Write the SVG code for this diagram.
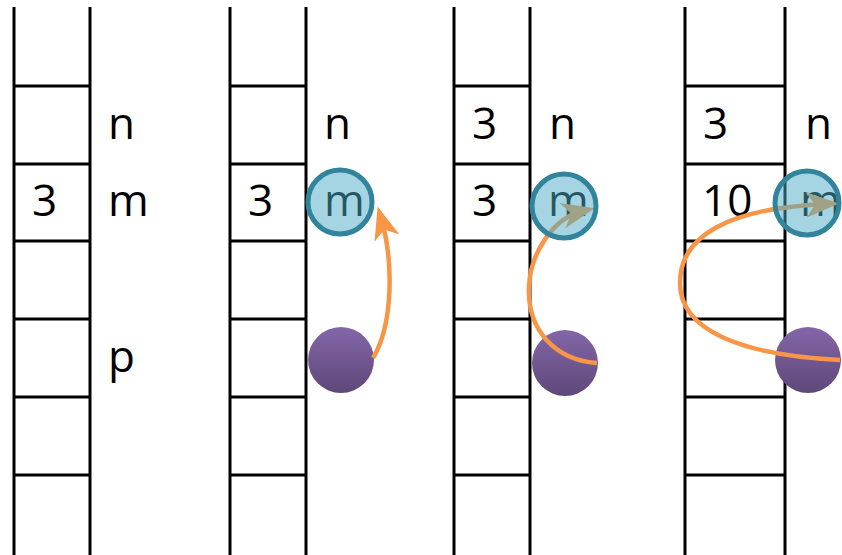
<svg xmlns="http://www.w3.org/2000/svg" width="842" height="555" viewBox="0 0 842 555">
<style>
.g line{stroke:#000;stroke-width:3}
.t{font-family:"Open Sans","Liberation Sans",sans-serif;font-size:44px;fill:#000}
.arr{fill:none;stroke:#f79646;stroke-width:4.5}
.bc{fill:rgba(75,172,198,0.5);stroke:#31849b;stroke-width:5}
.pc{fill:url(#pg)}
</style>
<defs>
<linearGradient id="pg" x1="0" y1="0" x2="0" y2="1">
<stop offset="0" stop-color="#8466a8"/>
<stop offset="1" stop-color="#5e4879"/>
</linearGradient>
<marker id="ah" markerUnits="userSpaceOnUse" viewBox="-24 -15 38 30" refX="0" refY="0" markerWidth="38" markerHeight="30" orient="auto">
<path d="M12 0 L-21 -13 L-12 0 L-21 13 Z" fill="#f79646"/>
</marker>
</defs>
<rect width="842" height="555" fill="#fff"/>

<g id="column1" class="g">
<line x1="14" y1="7" x2="14" y2="555"/><line x1="90" y1="7" x2="90" y2="555"/>
<line x1="14" y1="86" x2="90" y2="86"/><line x1="14" y1="164" x2="90" y2="164"/>
<line x1="14" y1="241" x2="90" y2="241"/><line x1="14" y1="319" x2="90" y2="319"/>
<line x1="14" y1="397" x2="90" y2="397"/><line x1="14" y1="475" x2="90" y2="475"/>
<text class="t" x="32" y="216">3</text>
<text class="t" x="108" y="139">n</text>
<text class="t" x="108" y="216">m</text>
<text class="t" x="108" y="372">p</text>
</g>

<g id="column2" class="g">
<line x1="230" y1="7" x2="230" y2="555"/><line x1="306" y1="7" x2="306" y2="555"/>
<line x1="230" y1="86" x2="306" y2="86"/><line x1="230" y1="164" x2="306" y2="164"/>
<line x1="230" y1="241" x2="306" y2="241"/><line x1="230" y1="319" x2="306" y2="319"/>
<line x1="230" y1="397" x2="306" y2="397"/><line x1="230" y1="475" x2="306" y2="475"/>
<text class="t" x="248" y="216">3</text>
<text class="t" x="324" y="139">n</text>
<text class="t" x="324" y="216">m</text>
</g>

<g id="column3" class="g">
<line x1="454" y1="7" x2="454" y2="555"/><line x1="530" y1="7" x2="530" y2="555"/>
<line x1="454" y1="86" x2="530" y2="86"/><line x1="454" y1="164" x2="530" y2="164"/>
<line x1="454" y1="241" x2="530" y2="241"/><line x1="454" y1="319" x2="530" y2="319"/>
<line x1="454" y1="397" x2="530" y2="397"/><line x1="454" y1="475" x2="530" y2="475"/>
<text class="t" x="472" y="139">3</text>
<text class="t" x="472" y="216">3</text>
<text class="t" x="549" y="139">n</text>
<text class="t" x="548" y="216">m</text>
</g>

<g id="column4" class="g">
<line x1="685" y1="7" x2="685" y2="555"/><line x1="785" y1="7" x2="785" y2="555"/>
<line x1="685" y1="86" x2="785" y2="86"/><line x1="685" y1="164" x2="785" y2="164"/>
<line x1="685" y1="241" x2="785" y2="241"/><line x1="685" y1="319" x2="785" y2="319"/>
<line x1="685" y1="397" x2="785" y2="397"/><line x1="685" y1="475" x2="785" y2="475"/>
<text class="t" x="703" y="139">3</text>
<text class="t" x="702" y="216">10</text>
<text class="t" x="805" y="139">n</text>
<text class="t" x="800" y="216">m</text>
</g>

<g id="p2"><circle class="pc" cx="341" cy="360" r="33"/></g>
<g id="p3"><circle class="pc" cx="565" cy="363" r="33"/></g>
<g id="p4"><circle class="pc" cx="808" cy="360" r="33"/></g>

<g id="connectors">
<path class="arr" d="M373 358 C393 325 394 262 381 218" marker-end="url(#ah)"/>
<path class="arr" d="M597 363 C555 360 527 330 529 287 C530 255 552 218 583 211" marker-end="url(#ah)"/>
<path class="arr" d="M840 360 C740 355 680 330 680 283 C680 235 730 208 827 204" marker-end="url(#ah)"/>
</g>

<g id="m2"><circle class="bc" cx="340" cy="202" r="32"/></g>
<g id="m3"><circle class="bc" cx="564" cy="206" r="32"/></g>
<g id="m4"><circle class="bc" cx="807" cy="203" r="32"/></g>
</svg>
